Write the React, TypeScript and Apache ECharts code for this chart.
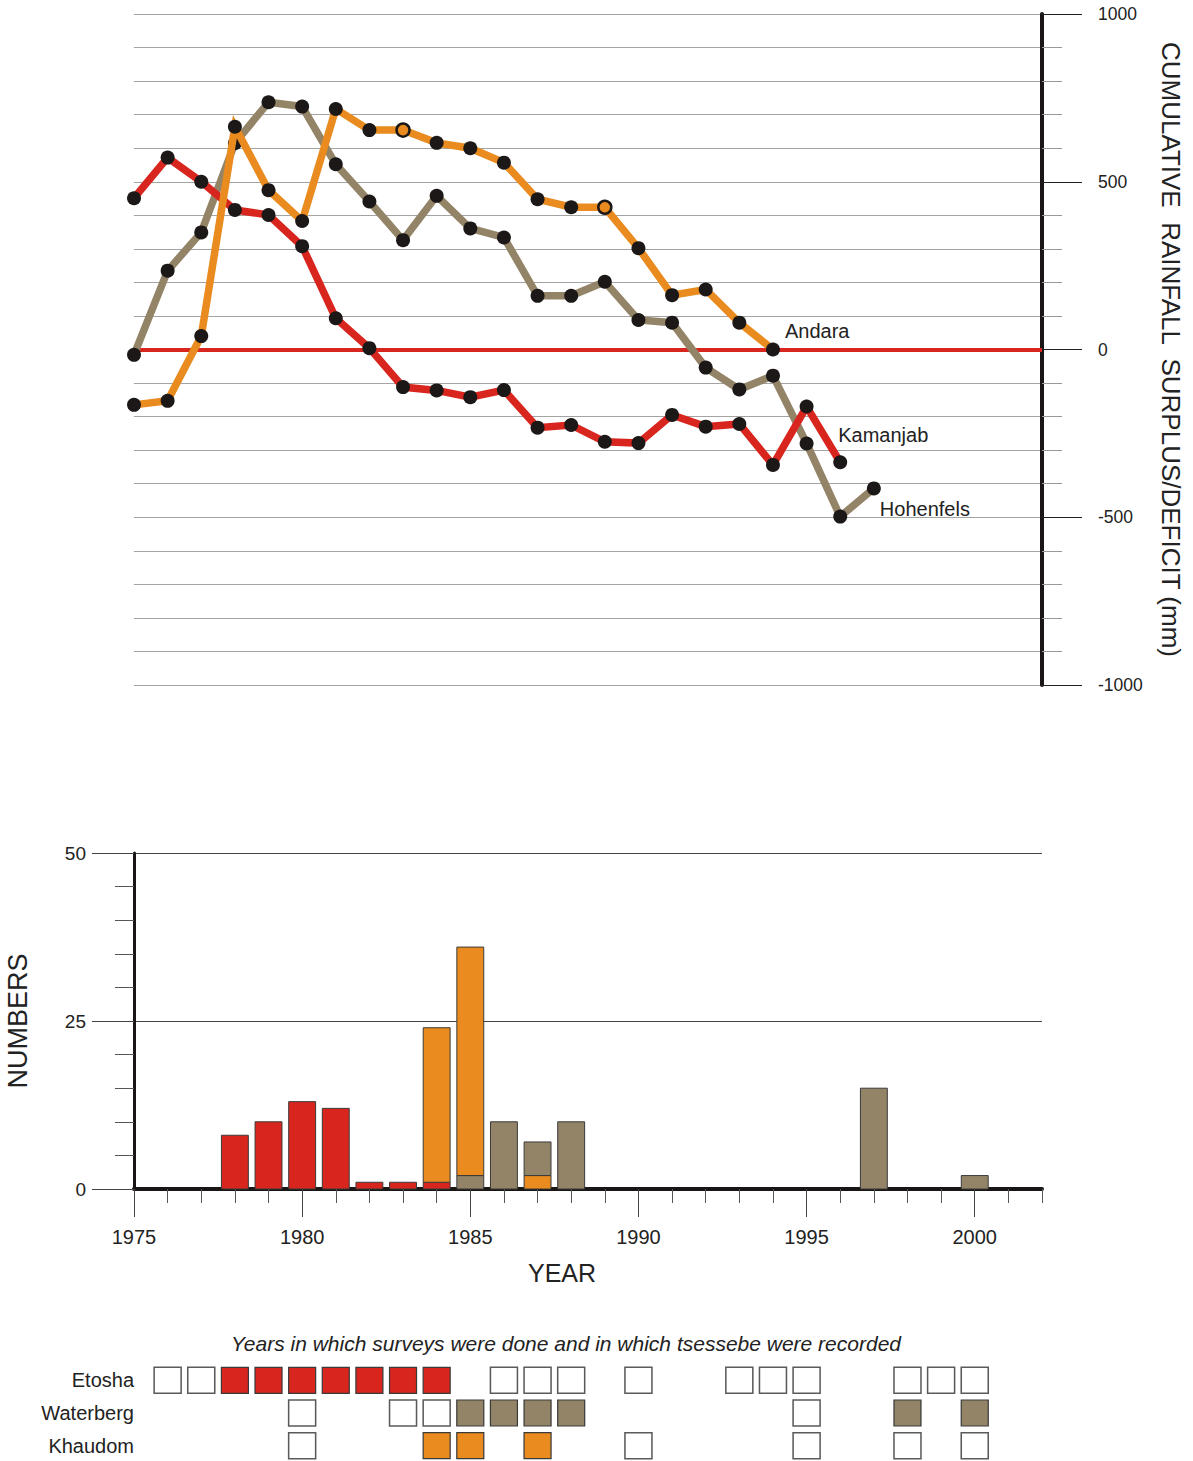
import React, { useEffect, useRef } from "react";
import * as echarts from "echarts";

// ---------- DATA ----------
const kamanjabYears = [1975,1976,1977,1978,1979,1980,1981,1982,1983,1984,1985,1986,1987,1988,1989,1990,1991,1992,1993,1994,1995,1996];
const kamanjab = [451,572,500,416,401,308,93,4,-112,-122,-142,-121,-233,-225,-275,-279,-195,-230,-222,-344,-170,-336];
const hohenfelsYears = [1975,1976,1977,1978,1979,1980,1981,1982,1983,1984,1985,1986,1987,1988,1989,1990,1991,1992,1993,1994,1995,1996,1997];
const hohenfels = [-16,235,349,615,737,724,552,441,326,458,361,334,160,160,202,88,80,-54,-119,-78,-280,-498,-414];
const andaraYears = [1975,1976,1977,1978,1979,1980,1981,1982,1983,1984,1985,1986,1987,1988,1989,1990,1991,1992,1993,1994];
const andara = [-165,-153,40,664,475,383,717,654,654,616,600,557,448,424,424,302,162,179,80,0];
const andaraHollowYears = [1983, 1989];

const sites = ["Etosha", "Waterberg", "Khaudom"];
const etoshaYears = [1978,1979,1980,1981,1982,1983,1984];
const etoshaN = [8,10,13,12,1,1,1];
const waterbergYears = [1985,1986,1987,1988,1997,2000];
const waterbergN = [2,10,5,10,15,2];
const khaudomYears = [1984,1985,1987];
const khaudomN = [23,34,2];
const khaudomBelowWaterbergYears = [1987];

const etoshaSurveyed = [1976,1977,1978,1979,1980,1981,1982,1983,1984,1986,1987,1988,1990,1993,1994,1995,1998,1999,2000];
const etoshaRecorded = [1978,1979,1980,1981,1982,1983,1984];
const waterbergSurveyed = [1980,1983,1984,1985,1986,1987,1988,1995,1998,2000];
const waterbergRecorded = [1985,1986,1987,1988,1998,2000];
const khaudomSurveyed = [1980,1984,1985,1987,1990,1995,1998,2000];
const khaudomRecorded = [1984,1985,1987];

const rightTicks = [1000, 500, 0, -500, -1000];
const yearTicks = [1975, 1980, 1985, 1990, 1995, 2000];

// ---------- STYLE ----------
const RED = "#d8261f";
const ORANGE = "#e98b1e";
const TAUPE = "#938468";
const DOT = "#1c1817";
const FONT = "'Liberation Sans', Arial, sans-serif";
const siteColors: Record<string, string> = { Etosha: RED, Waterberg: TAUPE, Khaudom: ORANGE };

function buildBars() {
  const counts: Record<string, Map<number, number>> = {
    Etosha: new Map(etoshaYears.map((y, i) => [y, etoshaN[i]])),
    Waterberg: new Map(waterbergYears.map((y, i) => [y, waterbergN[i]])),
    Khaudom: new Map(khaudomYears.map((y, i) => [y, khaudomN[i]])),
  };
  const allYears = Array.from(new Set([...etoshaYears, ...waterbergYears, ...khaudomYears])).sort((a, b) => a - b);
  const out: any[] = [];
  allYears.forEach((yr) => {
    const order = khaudomBelowWaterbergYears.includes(yr)
      ? ["Etosha", "Khaudom", "Waterberg"]
      : ["Etosha", "Waterberg", "Khaudom"];
    let base = 0;
    order.forEach((s) => {
      const v = counts[s].get(yr);
      if (v) {
        out.push([yr, base, base + v, sites.indexOf(s)]);
        base += v;
      }
    });
  });
  return out;
}

function buildSurveys() {
  const rows: [string, number[], number[]][] = [
    ["Etosha", etoshaSurveyed, etoshaRecorded],
    ["Waterberg", waterbergSurveyed, waterbergRecorded],
    ["Khaudom", khaudomSurveyed, khaudomRecorded],
  ];
  const out: any[] = [];
  rows.forEach(([site, surveyed, recorded]) => {
    surveyed.forEach((yr) => {
      const rec = recorded.includes(yr);
      out.push({
        value: [yr, site],
        itemStyle: rec
          ? { color: siteColors[site], borderColor: "#3a3a3a", borderWidth: 1.2, opacity: 1 }
          : { color: "#ffffff", borderColor: "#5a5a5a", borderWidth: 1.5, opacity: 1 },
      });
    });
  });
  return out;
}

export default function App() {
  const ref = useRef<HTMLDivElement>(null);
  useEffect(() => {
    if (!ref.current) return;
    const chart = echarts.init(ref.current, undefined, { renderer: "svg" });
    const endLabel = (text: string, offset: number[]) => ({
      show: true,
      formatter: text,
      position: "right",
      offset,
      color: "#222",
      fontSize: 20,
      fontFamily: FONT,
    });
    const lineBase = {
      type: "line",
      xAxisIndex: 0,
      yAxisIndex: 0,
      symbol: "circle",
      symbolSize: 14,
      itemStyle: { color: DOT },
      silent: true,
    };
    const option: any = {
      animation: false,
      textStyle: { fontFamily: FONT },
      grid: [
        { left: 134, right: 151, top: 14, height: 671, containLabel: false, outerBoundsMode: "none" },
        { left: 134, right: 151, top: 853, height: 336, containLabel: false, outerBoundsMode: "none" },
        { left: 134, right: 151, top: 1364, height: 98, containLabel: false, outerBoundsMode: "none" },
      ],
      xAxis: [
        { gridIndex: 0, type: "value", min: 1975, max: 2002, show: false },
        {
          gridIndex: 1, type: "value", position: "bottom", min: 1975, max: 2002, interval: 1,
          axisLine: { lineStyle: { color: "#1a1615", width: 4 } },
          axisTick: { length: 14, lineStyle: { color: "#555", width: 1 } },
          axisLabel: { show: false },
          splitLine: { show: false },
        },
        {
          gridIndex: 1, type: "value", position: "bottom", min: 1975, max: 2002, interval: 5,
          axisLine: { show: false },
          axisTick: { length: 28, customValues: yearTicks, lineStyle: { color: "#444", width: 1 } },
          axisLabel: {
            customValues: yearTicks, margin: 38, fontSize: 20, color: "#222", fontFamily: FONT,
            formatter: (v: number) => String(v),
          },
          splitLine: { show: false },
        },
        { gridIndex: 2, type: "value", min: 1975, max: 2002, show: false },
      ],
      yAxis: [
        {
          gridIndex: 0, type: "value", position: "right", min: -1000, max: 1000, interval: 100,
          axisLine: { show: true, lineStyle: { color: "#1a1615", width: 4 } },
          axisTick: { show: true, length: 20, lineStyle: { color: "#999", width: 1 } },
          axisLabel: { show: false },
          splitLine: { show: true, lineStyle: { color: "#a3a3a3", width: 1 } },
        },
        {
          gridIndex: 0, type: "value", position: "right", min: -1000, max: 1000, interval: 500,
          axisLine: { show: false },
          axisTick: { show: true, length: 40, lineStyle: { color: "#222", width: 1 } },
          axisLabel: {
            margin: 56, fontSize: 17.5, color: "#222", fontFamily: FONT, customValues: rightTicks,
            formatter: (v: number) => String(v),
          },
          splitLine: { show: false },
          name: "CUMULATIVE  RAINFALL  SURPLUS/DEFICIT (mm)",
          nameLocation: "middle",
          nameRotate: -90,
          nameGap: 116,
          nameTextStyle: { fontSize: 26, color: "#222", fontFamily: FONT },
        },
        {
          gridIndex: 1, type: "value", position: "left", min: 0, max: 50, interval: 5,
          axisLine: { show: true, lineStyle: { color: "#1a1615", width: 3 } },
          axisTick: { show: true, length: 19, lineStyle: { color: "#555", width: 1 } },
          axisLabel: { show: false },
          splitLine: { show: false },
        },
        {
          gridIndex: 1, type: "value", position: "left", min: 0, max: 50, interval: 25,
          axisLine: { show: false },
          axisTick: { show: true, length: 42, lineStyle: { color: "#444", width: 1 } },
          axisLabel: { margin: 48, fontSize: 19, color: "#222", fontFamily: FONT },
          splitLine: { show: true, lineStyle: { color: "#444", width: 1 } },
          name: "NUMBERS",
          nameLocation: "middle",
          nameRotate: 90,
          nameGap: 103,
          nameTextStyle: { fontSize: 27, color: "#222", fontFamily: FONT },
        },
        {
          gridIndex: 2, type: "category", data: ["Khaudom", "Waterberg", "Etosha"],
          axisLine: { show: false }, axisTick: { show: false }, splitLine: { show: false },
          axisLabel: { margin: 0, fontSize: 20, color: "#222", fontFamily: FONT },
        },
      ],
      series: [
        {
          ...lineBase,
          name: "Hohenfels",
          z: 2,
          lineStyle: { color: TAUPE, width: 7.5, join: "miter" },
          data: hohenfelsYears.map((y, i) =>
            i === hohenfels.length - 1
              ? { value: [y, hohenfels[i]], label: endLabel("Hohenfels", [-6, 21]) }
              : [y, hohenfels[i]]
          ),
          markLine: {
            silent: true,
            z: 1,
            symbol: "none",
            label: { show: false },
            lineStyle: { color: RED, width: 4, type: "solid" },
            data: [{ yAxis: 0 }],
          },
        },
        {
          ...lineBase,
          name: "Kamanjab",
          z: 3,
          lineStyle: { color: RED, width: 7.5, join: "miter" },
          data: kamanjabYears.map((y, i) =>
            i === kamanjab.length - 1
              ? { value: [y, kamanjab[i]], label: endLabel("Kamanjab", [-14, -27]) }
              : [y, kamanjab[i]]
          ),
        },
        {
          ...lineBase,
          name: "Andara",
          z: 4,
          lineStyle: { color: ORANGE, width: 7.5, join: "miter" },
          data: andaraYears.map((y, i) => {
            const item: any = { value: [y, andara[i]] };
            if (andaraHollowYears.includes(y)) {
              item.itemStyle = { color: ORANGE, borderColor: DOT, borderWidth: 2.5 };
              item.symbolSize = 13;
            }
            if (i === andara.length - 1) item.label = endLabel("Andara", [0, -19]);
            return item;
          }),
        },
        {
          type: "custom",
          name: "Numbers",
          xAxisIndex: 1,
          yAxisIndex: 2,
          silent: true,
          encode: { x: 0, y: [1, 2] },
          data: buildBars(),
          renderItem: (params: any, api: any) => {
            const x = api.value(0);
            const p0 = api.coord([x, api.value(1)]);
            const p1 = api.coord([x, api.value(2)]);
            const w = api.size([1, 0])[0] * 0.8;
            const color = siteColors[sites[api.value(3)]];
            return {
              type: "rect",
              shape: { x: p0[0] - w / 2, y: p1[1], width: w, height: p0[1] - p1[1] },
              style: { fill: color, stroke: "#3a3a3a", lineWidth: 1 },
            };
          },
        },
        {
          type: "scatter",
          name: "Surveys",
          xAxisIndex: 3,
          yAxisIndex: 4,
          silent: true,
          symbol: "rect",
          symbolSize: [27, 26],
          itemStyle: { opacity: 1 },
          data: buildSurveys(),
        },
      ],
      graphic: [
        {
          type: "text",
          x: 566, y: 1343,
          style: {
            text: "Years in which surveys were done and in which tsessebe were recorded",
            fontSize: 21, fontStyle: "italic", fontFamily: FONT, fill: "#222",
            textAlign: "center", textVerticalAlign: "middle",
          },
        },
        {
          type: "text",
          x: 562, y: 1273,
          style: {
            text: "YEAR", fontSize: 25, fontFamily: FONT, fill: "#222",
            textAlign: "center", textVerticalAlign: "middle",
          },
        },
      ],
    };
    chart.setOption(option);
    return () => chart.dispose();
  }, []);
  return (
    <div
      ref={ref}
      style={{ position: "absolute", left: 0, top: 0, width: 1193, height: 1461, background: "#fff" }}
    />
  );
}
